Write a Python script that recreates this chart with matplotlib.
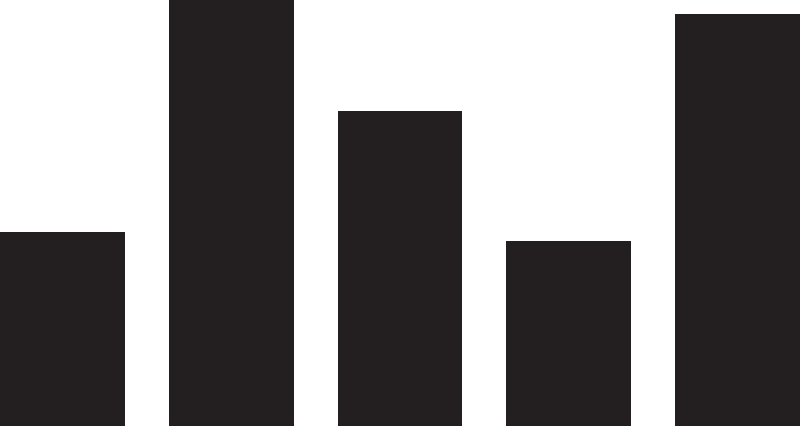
import matplotlib
matplotlib.use("Agg")
import matplotlib.pyplot as plt

categories = ["A", "B", "C", "D", "E"]
values = [194, 426, 315, 185, 412]

fig = plt.figure(figsize=(8, 4.27), dpi=100)
ax = fig.add_axes([0, 0, 1, 1])
x = list(range(len(categories)))
ax.bar(x, values, width=0.74, color="#231f20", linewidth=0)
ax.set_xlim(-0.37, len(categories) - 1 + 0.37)
ax.set_ylim(0, 427)
ax.axis("off")
fig.savefig("out.png", dpi=100, facecolor="white")
